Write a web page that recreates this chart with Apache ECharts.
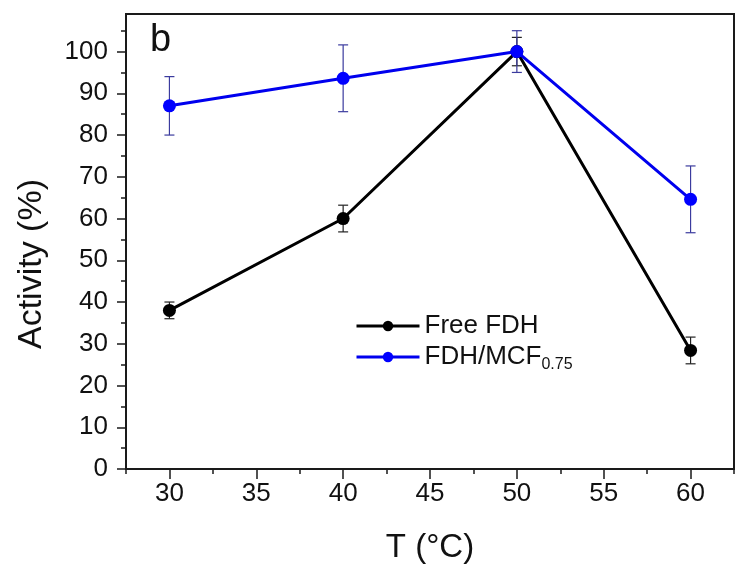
<!DOCTYPE html>
<html>
<head>
<meta charset="utf-8">
<script src="https://cdn.jsdelivr.net/npm/echarts@6/dist/echarts.min.js"></script>
<style>html,body{margin:0;padding:0;background:#fff;}#c{width:736px;height:571px;}</style>
</head>
<body>
<div id="c"></div>
<script>
const temps = [30, 40, 50, 60];
const freeFDH = [38, 60, 100, 28.4];
const freeErr = [2, 3.2, 3.4, 3.2];
const mcf = [87, 93.6, 100, 64.6];
const mcfErr = [7, 8, 5, 8];
const xMajor = [30, 35, 40, 45, 50, 55, 60];
const xMinor = [27.5, 32.5, 37.5, 42.5, 47.5, 52.5, 57.5, 62.5];
const yMajor = [0, 10, 20, 30, 40, 50, 60, 70, 80, 90, 100];
const yMinor = [5, 15, 25, 35, 45, 55, 65, 75, 85, 95, 105];

const FONT = 'Liberation Sans, Arial, sans-serif';
const chart = echarts.init(document.getElementById('c'), null, {renderer: 'canvas'});

function errSeries(vals, errs, color) {
  return {
    type: 'custom',
    xAxisIndex: 0, yAxisIndex: 0,
    data: temps.map((t, i) => [t, vals[i], errs[i]]),
    encode: {x: 0, y: 1},
    z: 2,
    renderItem: function (params, api) {
      const x = api.value(0), y = api.value(1), e = api.value(2);
      const p1 = api.coord([x, y + e]);
      const p2 = api.coord([x, y - e]);
      const w = 5;
      const st = {stroke: color, lineWidth: 1.2};
      return {
        type: 'group',
        children: [
          {type: 'line', shape: {x1: p1[0], y1: p1[1], x2: p2[0], y2: p2[1]}, style: st},
          {type: 'line', shape: {x1: p1[0] - w, y1: p1[1], x2: p1[0] + w, y2: p1[1]}, style: st},
          {type: 'line', shape: {x1: p2[0] - w, y1: p2[1], x2: p2[0] + w, y2: p2[1]}, style: st}
        ]
      };
    }
  };
}

const axisLineStyle = {color: '#1a1a1a', width: 2};

chart.setOption({
  animation: false,
  backgroundColor: '#fff',
  grid: {left: 126, top: 14, right: 2, bottom: 102, show: true, borderColor: '#1a1a1a', borderWidth: 2, backgroundColor: 'transparent'},
  xAxis: [
    {
      type: 'value', min: 27.5, max: 62.5,
      name: 'T (°C)', nameLocation: 'middle', nameGap: 62,
      nameTextStyle: {fontFamily: FONT, fontSize: 33, color: '#111'},
      axisLine: {show: true, lineStyle: axisLineStyle},
      axisTick: {show: true, length: 10, inside: false, customValues: xMajor, lineStyle: {color: '#1a1a1a', width: 1.5}},
      axisLabel: {show: true, customValues: xMajor, margin: 12, fontFamily: FONT, fontSize: 26, color: '#111'},
      splitLine: {show: false}
    },
    {
      type: 'value', min: 27.5, max: 62.5, position: 'bottom',
      axisLine: {show: false},
      axisTick: {show: true, length: 5, customValues: xMinor, lineStyle: {color: '#1a1a1a', width: 1.5}},
      axisLabel: {show: false},
      splitLine: {show: false}
    }
  ],
  yAxis: [
    {
      type: 'value', min: 0, max: 109,
      axisLine: {show: true, lineStyle: axisLineStyle},
      axisTick: {show: true, length: 9, customValues: yMajor, lineStyle: {color: '#1a1a1a', width: 1.5}},
      axisLabel: {show: true, customValues: yMajor, margin: 18, fontFamily: FONT, fontSize: 26, color: '#111'},
      splitLine: {show: false}
    },
    {
      type: 'value', min: 0, max: 109, position: 'left',
      axisLine: {show: false},
      axisTick: {show: true, length: 5, customValues: yMinor, lineStyle: {color: '#1a1a1a', width: 1.5}},
      axisLabel: {show: false},
      splitLine: {show: false}
    }
  ],
  legend: {
    orient: 'vertical',
    left: 355, top: 312, padding: 0,
    itemWidth: 63, itemHeight: 13, itemGap: 1,
    lineStyle: {width: 3},
    data: ['Free FDH', 'FDH/MCF0.75'],
    formatter: function (name) {
      if (name === 'FDH/MCF0.75') return '{m|FDH/MCF}{s|0.75}';
      return '{m|' + name + '}';
    },
    textStyle: {
      fontFamily: FONT, fontSize: 26, color: '#111', lineHeight: 28,
      rich: {
        m: {fontFamily: FONT, fontSize: 26, color: '#111', lineHeight: 28},
        s: {fontFamily: FONT, fontSize: 16, color: '#111', lineHeight: 28, padding: [16, 0, 0, 0]}
      }
    }
  },
  graphic: [
    {type: 'text', left: 150, top: 22, style: {text: 'b', font: '38px ' + FONT, fill: '#111'}},
    {type: 'text', x: 32, y: 264, rotation: Math.PI / 2,
     style: {text: 'Activity (%)', font: '34px ' + FONT, fill: '#111', align: 'center', verticalAlign: 'middle'}}
  ],
  series: [
    errSeries(freeFDH, freeErr, '#222'),
    {
      name: 'Free FDH', type: 'line',
      data: temps.map((t, i) => [t, freeFDH[i]]),
      symbol: 'circle', symbolSize: 13,
      lineStyle: {color: '#000', width: 3},
      itemStyle: {color: '#000'},
      z: 3
    },
    errSeries(mcf, mcfErr, '#3b3b9e'),
    {
      name: 'FDH/MCF0.75', type: 'line',
      data: temps.map((t, i) => [t, mcf[i]]),
      symbol: 'circle', symbolSize: 13,
      lineStyle: {color: '#0000ee', width: 3},
      itemStyle: {color: '#0000ff'},
      z: 4
    }
  ]
});
</script>
</body>
</html>
